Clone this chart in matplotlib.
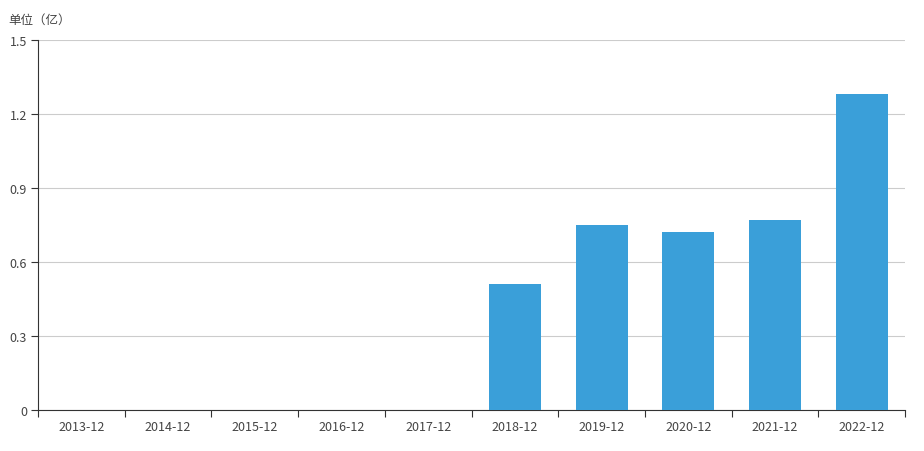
import matplotlib
matplotlib.use('Agg')
import matplotlib.pyplot as plt
import numpy as np

plt.rcParams['font.family'] = ['Noto Sans CJK SC', 'DejaVu Sans']

# data
years = ['2013-12', '2014-12', '2015-12', '2016-12', '2017-12',
         '2018-12', '2019-12', '2020-12', '2021-12', '2022-12']
values = [0, 0, 0, 0, 0, 0.51, 0.75, 0.72, 0.77, 1.28]
yticks = [0, 0.3, 0.6, 0.9, 1.2, 1.5]
ytick_labels = ['0', '0.3', '0.6', '0.9', '1.2', '1.5']

fig = plt.figure(figsize=(9.24, 4.52), dpi=100)
ax = fig.add_axes([38/924, 1-411/452, (905-38)/924, (411-41)/452])

x = np.arange(len(years))
ax.bar(x, values, width=0.6, color='#3a9fd9', zorder=3)

ax.set_xlim(-0.5, len(years)-0.5)
ax.set_ylim(0, 1.5)
ax.set_yticks(yticks)
ax.set_yticklabels(ytick_labels)
ax.grid(axis='y', color='#cccccc', linewidth=0.8, zorder=0)

# ticks at slot boundaries, labels in the middle
ax.set_xticks(np.arange(len(years)+1)-0.5)
ax.set_xticklabels([])
ax.set_xticks(x, minor=True)
ax.set_xticklabels(years, minor=True)
ax.tick_params(axis='x', which='major', length=5, color='#333333')
ax.tick_params(axis='x', which='minor', length=0, pad=7, labelsize=9, labelcolor='#444444')
ax.tick_params(axis='y', length=5, color='#333333', labelsize=9, labelcolor='#444444', pad=3)

for s in ['top', 'right']:
    ax.spines[s].set_visible(False)
ax.spines['left'].set_color('#333333')
ax.spines['bottom'].set_color('#333333')

fig.text(8/924, 1-20/452, '单位（亿）', fontsize=9, color='#444444', va='center', ha='left')

plt.savefig('out.png', dpi=100)
